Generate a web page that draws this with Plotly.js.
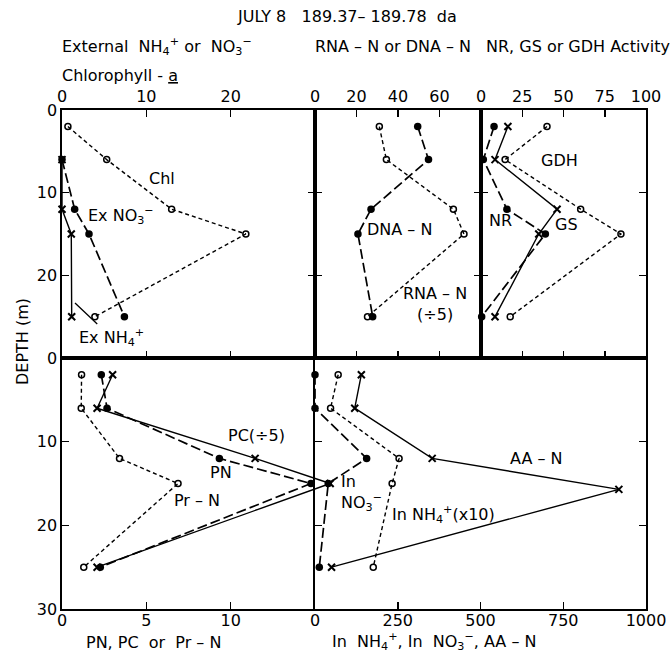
<!DOCTYPE html>
<html>
<head>
<meta charset="utf-8">
<script src="https://cdn.plot.ly/plotly-3.0.1.min.js"></script>
<style>html,body{margin:0;padding:0;background:#fff;}#chart{width:672px;height:658px;}</style>
</head>
<body>
<div id="chart"></div>
<script>
// ---------- data ----------
const depths = [2, 6, 12, 15, 25];
// top-left panel
const chl = [0.7, 5.3, 13.0, 21.8, 3.9];
const exDepths = [6, 12, 15, 25];
const exNO3 = [0, 1.5, 3.2, 7.4];
const exNH4 = [0, 0, 1.1, 1.15];
// top-middle panel
const rnaN5 = [31, 34.4, 66.7, 71.8, 25.3];
const dnaN = [49.5, 54.7, 27, 20.7, 27.8];
// top-right panel
const nr = [7.9, 1.4, 15.7, 39, 0.4];
const gs = [16.3, 8.5, 46.1, 35, 8.5];
const gdh = [40, 14.6, 60.4, 84.8, 17.7];
// bottom-left panel
const pn = [2.33, 2.67, 9.33, 14.76, 2.27];
const pc5 = [3.0, 2.08, 11.45, 15.9, 2.08];
const prN = [1.16, 1.14, 3.41, 6.88, 1.29];
// bottom-right panel
const inNO3 = [0, 0, 156, 40, 13];
const inNH4x10 = [70, 47, 254, 233, 176];
const aaDepths = [2, 6, 12, 15.7, 25];
const aaN = [140, 120, 354, 918, 50];
// tick labels
const chlTicks = [0, 10, 20];
const nucTicks = [0, 20, 40, 60];
const enzTicks = [0, 25, 50, 75, 100];
const pTicks = [0, 5, 10];
const inTicks = [0, 250, 500, 750, 1000];
const depthTicksTop = [0, 10, 20];
const depthTicksBottom = [0, 10, 20, 30];

// ---------- styles ----------
const F = 'DejaVu Sans';
const W = 672, H = 658;
const px = v => v / W, py = v => 1 - v / H;
const shortDash = '4px,3px', longDash = '10px,4px';
const openC = {symbol: 'circle-open', size: 6, color: 'black', line: {width: 1.5, color: 'black'}};
const fillC = {symbol: 'circle', size: 7.5, color: 'black'};
const xM = {symbol: 'x-thin-open', size: 7, color: 'black', line: {width: 2, color: 'black'}};

function tr(x, y, xa, ya, marker, dash, width) {
  return {type: 'scatter', mode: 'lines+markers', x: x, y: y, xaxis: xa, yaxis: ya,
    marker: marker, line: {color: 'black', width: width || 1.5, dash: dash},
    showlegend: false, hoverinfo: 'skip', cliponaxis: false};
}

const data = [
  tr(chl, depths, 'x', 'y', openC, shortDash, 1.4),
  tr(exNO3, exDepths, 'x', 'y', fillC, longDash, 1.7),
  tr(exNH4, exDepths, 'x', 'y', xM, 'solid', 1.4),
  tr(rnaN5, depths, 'x2', 'y2', openC, shortDash, 1.4),
  tr(dnaN, depths, 'x2', 'y2', fillC, longDash, 1.7),
  tr(gdh, depths, 'x3', 'y3', openC, shortDash, 1.4),
  tr(nr, depths, 'x3', 'y3', fillC, longDash, 1.7),
  tr(gs, depths, 'x3', 'y3', xM, 'solid', 1.4),
  tr(prN, depths, 'x4', 'y4', openC, shortDash, 1.4),
  tr(pn, depths, 'x4', 'y4', fillC, longDash, 1.7),
  tr(pc5, depths, 'x4', 'y4', xM, 'solid', 1.4),
  tr(inNH4x10, depths, 'x5', 'y5', openC, shortDash, 1.4),
  tr(inNO3, depths, 'x5', 'y5', fillC, longDash, 1.7),
  tr(aaN, aaDepths, 'x5', 'y5', xM, 'solid', 1.4)
];

function ax(o) {
  return Object.assign({showline: true, linecolor: 'black', linewidth: 1.6, ticks: 'inside', ticklen: 7,
    tickwidth: 1.5, tickcolor: 'black', showgrid: false, zeroline: false, fixedrange: true,
    tickfont: {family: F, size: 16, color: 'black'}}, o);
}
const topY = [py(358), py(110)], botY = [py(609), py(358)];
const pRangeMax = 15 * (345 - 62) / (315 - 62);

const layout = {
  width: W, height: H, margin: {l: 0, r: 0, t: 0, b: 0},
  paper_bgcolor: 'white', plot_bgcolor: 'rgba(0,0,0,0)',
  font: {family: F, size: 16, color: 'black'},
  xaxis: ax({domain: [px(62), px(315)], range: [0, 30], side: 'top', anchor: 'y', tickmode: 'array', tickvals: chlTicks, mirror: 'ticks'}),
  yaxis: ax({domain: topY, range: [30, 0], anchor: 'x', tickmode: 'array', tickvals: depthTicksTop, mirror: 'ticks'}),
  xaxis2: ax({domain: [px(315), px(481)], range: [0, 80], side: 'top', anchor: 'y2', tickmode: 'array', tickvals: nucTicks, mirror: 'ticks'}),
  yaxis2: ax({domain: topY, range: [30, 0], anchor: 'x2', tickmode: 'array', tickvals: [10, 20], showticklabels: false, mirror: 'ticks'}),
  xaxis3: ax({domain: [px(481), px(646)], range: [0, 100], side: 'top', anchor: 'y3', tickmode: 'array', tickvals: enzTicks, mirror: 'ticks'}),
  yaxis3: ax({domain: topY, range: [30, 0], anchor: 'x3', tickmode: 'array', tickvals: [10, 20], showticklabels: false, mirror: 'ticks'}),
  xaxis4: ax({domain: [px(62), px(345)], range: [0, pRangeMax], side: 'bottom', anchor: 'y4', tickmode: 'array', tickvals: pTicks, mirror: true, ticklabelstandoff: -4}),
  yaxis4: ax({domain: botY, range: [30, 0], anchor: 'x4', tickmode: 'array', tickvals: depthTicksBottom, mirror: false}),
  xaxis5: ax({domain: [px(315), px(646)], range: [0, 1000], side: 'bottom', anchor: 'y5', tickmode: 'array', tickvals: inTicks, mirror: true, ticklabelstandoff: -4}),
  yaxis5: ax({domain: botY, range: [30, 0], anchor: 'x5', tickmode: 'array', tickvals: [10, 20], showticklabels: false, mirror: 'ticks'}),
  annotations: []
};

function note(text, x, y, o) {
  layout.annotations.push(Object.assign({text: text, xref: 'paper', yref: 'paper', x: px(x), y: py(y),
    showarrow: false, font: {family: F, size: 16, color: 'black'}, xanchor: 'center', yanchor: 'middle'}, o || {}));
}
// headers
note('JULY 8   189.37– 189.78  da', 347, 16);
note('External  NH<sub>4</sub><sup>+</sup> or  NO<sub>3</sub><sup>−</sup>', 60, 46, {xanchor: 'left'});
note('RNA – N or DNA – N', 393, 46);
note('NR, GS or GDH Activity', 578, 46);
note('Chlorophyll - <u>a</u>', 60, 76, {xanchor: 'left'});
// axis titles
note('DEPTH (m)', 22, 342, {textangle: -90});
note('PN, PC  or  Pr – N', 153, 642);
note('In  NH<sub>4</sub><sup>+</sup>, In  NO<sub>3</sub><sup>−</sup>, AA – N', 434, 641);
// series labels
note('Chl', 162, 178);
note('Ex NO<sub>3</sub><sup>−</sup>', 121, 215);
layout.annotations.push({text: 'Ex NH<sub>4</sub><sup>+</sup>', xref: 'paper', yref: 'paper', x: px(75), y: py(303),
  showarrow: true, arrowhead: 0, arrowwidth: 1.3, arrowcolor: 'black', ax: 36, ay: 34, standoff: 0,
  font: {family: F, size: 16, color: 'black'}});
note('DNA – N', 399, 229);
note('RNA – N<br>(÷5)', 435, 304);
note('GDH', 559, 160);
note('NR', 500, 220);
note('GS', 566, 225);
note('PC(÷5)', 256, 435);
note('PN', 221, 472);
note('Pr – N', 197, 500);
note('In<br>NO<sub>3</sub><sup>−</sup>', 339, 493, {xanchor: 'left', align: 'left'});
note('In NH<sub>4</sub><sup>+</sup>(x10)', 443, 514);
note('AA – N', 536, 458);

Plotly.newPlot('chart', data, layout, {staticPlot: true, displayModeBar: false});
</script>
</body>
</html>
